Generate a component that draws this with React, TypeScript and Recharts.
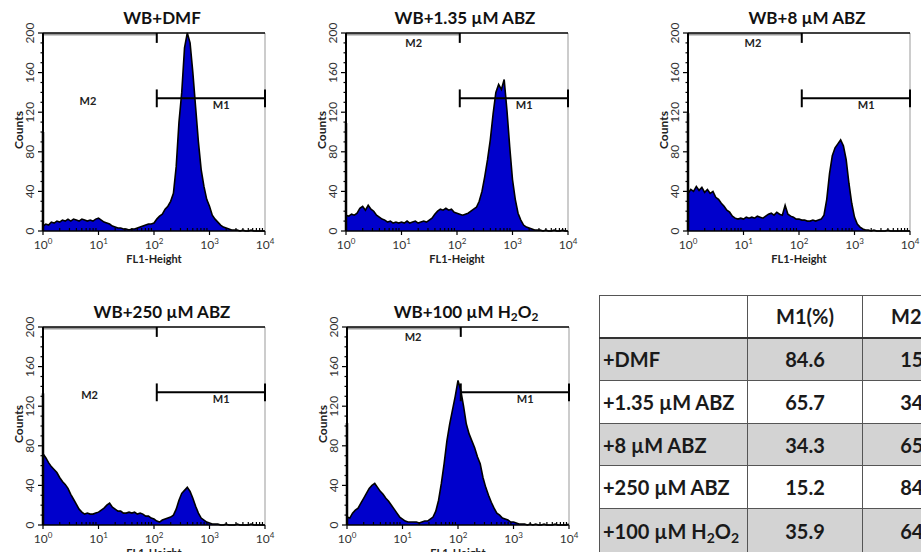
import { AreaChart, Area, XAxis, YAxis, ReferenceLine, ReferenceDot } from "recharts";

// channel positions in decades (log10 of FL1-Height)
const channelDecades = [
  0, 0.05, 0.1, 0.15, 0.2, 0.25, 0.3, 0.35, 0.4, 0.45,
  0.5, 0.55, 0.6, 0.65, 0.7, 0.75, 0.8, 0.85, 0.9, 0.95,
  1, 1.05, 1.1, 1.15, 1.2, 1.25, 1.3, 1.35, 1.4, 1.45,
  1.5, 1.55, 1.6, 1.65, 1.7, 1.75, 1.8, 1.85, 1.9, 1.95,
  2, 2.05, 2.1, 2.15, 2.2, 2.25, 2.3, 2.35, 2.4, 2.45,
  2.5, 2.55, 2.6, 2.65, 2.7, 2.75, 2.8, 2.85, 2.9, 2.95,
  3, 3.05, 3.1, 3.15, 3.2, 3.25, 3.3, 3.35, 3.4, 3.45,
  3.5, 3.55, 3.6, 3.65, 3.7, 3.75, 3.8, 3.85, 3.9, 3.95,
  4,
];

const dmfCounts = [
  5, 7, 6, 9, 8, 10, 9, 11, 10, 12,
  10, 12, 11, 10, 12, 11, 10, 11, 10, 12,
  13, 11, 9, 8, 7, 5, 4, 3, 3, 2,
  2, 1, 2, 2, 3, 4, 5, 6, 7, 7,
  8, 12, 15, 17, 22, 25, 30, 38, 65, 110,
  140, 185, 200, 190, 160, 125, 90, 62, 45, 32,
  25, 16, 12, 9, 6, 4, 3, 2, 1, 1,
  1, 0, 1, 0, 0, 1, 0, 0, 0, 0,
  0,
];

const abz135Counts = [
  16, 15, 17, 16, 18, 23, 25, 21, 26, 22,
  20, 16, 14, 12, 11, 9, 10, 8, 9, 8,
  9, 8, 10, 8, 9, 10, 8, 9, 10, 9,
  11, 13, 17, 20, 22, 21, 23, 21, 22, 19,
  18, 17, 16, 17, 18, 20, 22, 24, 30, 40,
  55, 72, 92, 118, 140, 148, 143, 153, 122, 85,
  52, 32, 18, 11, 6, 4, 3, 2, 1, 1,
  1, 0, 1, 0, 0, 1, 0, 0, 1, 0,
  0,
];

const abz8Counts = [
  38, 42, 40, 45, 41, 44, 39, 42, 38, 40,
  34, 32, 28, 25, 21, 19, 15, 13, 12, 13,
  12, 14, 13, 14, 13, 15, 14, 13, 15, 17,
  18, 16, 19, 17, 16, 26, 17, 15, 14, 12,
  12, 11, 11, 10, 10, 11, 10, 11, 12, 16,
  32, 58, 76, 84, 88, 92, 86, 72, 48, 28,
  14, 7, 4, 2, 1, 1, 0, 1, 0, 0,
  0, 0, 1, 0, 0, 0, 0, 0, 0, 0,
  0,
];

const abz250Counts = [
  72, 68, 63, 59, 56, 53, 48, 44, 41, 37,
  31, 26, 21, 16, 13, 11, 12, 11, 11, 12,
  13, 15, 17, 20, 22, 18, 16, 14, 14, 12,
  12, 13, 12, 13, 11, 12, 11, 9, 9, 7,
  6, 4, 3, 5, 6, 7, 8, 10, 16, 25,
  32, 35, 38, 34, 27, 19, 12, 7, 5, 3,
  2, 1, 1, 1, 0, 0, 1, 0, 0, 0,
  1, 0, 0, 0, 0, 1, 0, 0, 0, 0,
  0,
];

const h2o2Counts = [
  8, 7, 12, 15, 17, 22, 27, 32, 37, 40,
  42, 38, 34, 31, 27, 24, 20, 16, 12, 8,
  6, 4, 3, 3, 3, 3, 2, 3, 4, 4,
  6, 8, 14, 25, 42, 62, 85, 102, 116, 130,
  146, 136, 120, 102, 92, 85, 78, 69, 62, 48,
  38, 30, 23, 17, 12, 10, 7, 6, 5, 3,
  3, 2, 1, 1, 1, 0, 1, 0, 1, 0,
  0, 1, 0, 0, 0, 1, 0, 0, 0, 0,
  1,
];

// first-channel pile-up drawn on the y axis
const edgeCounts = [100, 109, 119, 133, 103];

const panelTitles = ["WB+DMF", "WB+1.35 µM ABZ", "WB+8 µM ABZ", "WB+250 µM ABZ", "WB+100 µM H2O2"];

const decadeTicks = [0, 1, 2, 3, 4];
const minorOffsets = [0.301, 0.477, 0.602, 0.699, 0.778, 0.845, 0.903, 0.954];
const xTicks = [...decadeTicks, ...decadeTicks.slice(0, 4).flatMap((d) => minorOffsets.map((m) => d + m))];
const yTicks = [0, 10, 20, 30, 40, 50, 60, 70, 80, 90, 100, 110, 120, 130, 140, 150, 160, 170, 180, 190, 200];

// marker gates (decades / counts)
const gateSplit = 2.05;
const m1Level = 134;

// table
const tableHeader = ["", "M1(%)", "M2(%)"];
const tableLabels = ["+DMF", "+1.35 µM ABZ", "+8 µM ABZ", "+250 µM ABZ", "+100 µM H2O2"];
const m1Percent = [84.6, 65.7, 34.3, 15.2, 35.9];
const m2Percent = [15.4, 34.3, 65.7, 84.8, 64.1];

const FONT = "Lato, 'Open Sans', 'Liberation Sans', sans-serif";

function withSubs(s: string) {
  return s.split(/(H2O2)/).map((part, i) =>
    part === "H2O2" ? (
      <span key={i}>
        H<sub style={{ fontSize: "0.7em", verticalAlign: "-0.25em", lineHeight: 0 }}>2</sub>O
        <sub style={{ fontSize: "0.7em", verticalAlign: "-0.25em", lineHeight: 0 }}>2</sub>
      </span>
    ) : (
      part
    )
  );
}

function XTick(props: any) {
  const { x, y, payload } = props;
  const v = payload.value;
  if (!Number.isInteger(v)) {
    return <line x1={x} x2={x} y1={y} y2={y - 3} stroke="#000" strokeWidth={1.2} />;
  }
  return (
    <g>
      <line x1={x} x2={x} y1={y} y2={y + 4} stroke="#000" strokeWidth={1.2} />
      <text x={x} y={y + 18} textAnchor="middle" fontSize={12} fill="#333" fontFamily={FONT}>
        <tspan>10</tspan>
        <tspan dy={-5} fontSize={8}>
          {v}
        </tspan>
      </text>
    </g>
  );
}

function YTick(props: any) {
  const { x, y, payload } = props;
  const v = payload.value;
  const major = v % 40 === 0;
  return (
    <g>
      <line x1={x} x2={x - (major ? 5 : 2.5)} y1={y} y2={y} stroke="#000" strokeWidth={1.2} />
      {major && (
        <text
          x={x - 9}
          y={y}
          transform={`rotate(-90 ${x - 9} ${y})`}
          textAnchor="middle"
          fontSize={12}
          fill="#333"
          fontFamily={FONT}
        >
          {v}
        </text>
      )}
    </g>
  );
}

type Panel = {
  title: string;
  counts: number[];
  edge: number;
  m2x: number;
  m2y: number;
  left: number;
  top: number;
};

const panels: Panel[] = [
  { title: panelTitles[0], counts: dmfCounts, edge: edgeCounts[0], m2x: 0.81, m2y: 131, left: 0, top: 0 },
  { title: panelTitles[1], counts: abz135Counts, edge: edgeCounts[1], m2x: 1.22, m2y: 190, left: 303, top: 0 },
  { title: panelTitles[2], counts: abz8Counts, edge: edgeCounts[2], m2x: 1.17, m2y: 190, left: 645, top: 0 },
  { title: panelTitles[3], counts: abz250Counts, edge: edgeCounts[3], m2x: 0.84, m2y: 131, left: 0, top: 294 },
  { title: panelTitles[4], counts: h2o2Counts, edge: edgeCounts[4], m2x: 1.19, m2y: 190, left: 304, top: 294 },
];

const markLabel = { position: "center" as const, fontSize: 11, fontWeight: 700, fill: "#222", fontFamily: FONT };

function Histogram({ panel }: { panel: Panel }) {
  const data = channelDecades.map((x, i) => ({ x, count: panel.counts[i] }));
  return (
    <div style={{ position: "absolute", left: panel.left, top: panel.top, width: 300, height: 270 }}>
      <AreaChart width={300} height={270} data={data} margin={{ top: 33, right: 35, bottom: 9, left: 13 }}>
        <XAxis
          type="number"
          dataKey="x"
          domain={[0, 4]}
          ticks={xTicks}
          interval={0}
          tickSize={0}
          tickMargin={0}
          tick={(p: any) => <XTick {...p} />}
          height={30}
          axisLine={{ stroke: "#000", strokeWidth: 1.5 }}
          label={{
            value: "FL1-Height",
            position: "insideBottom",
            offset: -2,
            fontSize: 11,
            fontWeight: 700,
            fill: "#222",
            fontFamily: FONT,
          }}
        />
        <YAxis
          type="number"
          domain={[0, 200]}
          ticks={yTicks}
          interval={0}
          width={30}
          tickSize={0}
          tickMargin={0}
          tick={(p: any) => <YTick {...p} />}
          axisLine={{ stroke: "#000", strokeWidth: 2 }}
        />
        <Area
          type="linear"
          dataKey="count"
          stroke="#000"
          strokeWidth={1.6}
          fill="#0000cc"
          fillOpacity={1}
          dot={false}
          activeDot={false}
          isAnimationActive={false}
        />
        <ReferenceLine x={4} stroke="#999" strokeWidth={1} />
        <ReferenceLine segment={[{ x: 0, y: 198.5 }, { x: gateSplit, y: 198.5 }]} stroke="#999" strokeWidth={2} />
        <ReferenceLine y={200} stroke="#000" strokeWidth={1.5} />
        <ReferenceLine segment={[{ x: 0, y: 0 }, { x: 0, y: panel.edge }]} stroke="#000" strokeWidth={2.5} />
        <ReferenceLine segment={[{ x: gateSplit, y: 200 }, { x: gateSplit, y: 190 }]} stroke="#000" strokeWidth={2} />
        <ReferenceLine segment={[{ x: gateSplit, y: m1Level }, { x: 4, y: m1Level }]} stroke="#000" strokeWidth={2} />
        <ReferenceLine segment={[{ x: gateSplit, y: m1Level - 9 }, { x: gateSplit, y: m1Level + 9 }]} stroke="#000" strokeWidth={2} />
        <ReferenceLine segment={[{ x: 4, y: m1Level - 9 }, { x: 4, y: m1Level + 9 }]} stroke="#000" strokeWidth={2} />
        <ReferenceDot x={3.21} y={127} r={1} fill="none" stroke="none" label={{ value: "M1", ...markLabel }} />
        <ReferenceDot x={panel.m2x} y={panel.m2y} r={1} fill="none" stroke="none" label={{ value: "M2", ...markLabel }} />
      </AreaChart>
      <div
        style={{
          position: "absolute",
          left: 0,
          top: 7,
          width: 324,
          textAlign: "center",
          fontFamily: FONT,
          fontWeight: 700,
          fontSize: 17,
          lineHeight: "22px",
          color: "#111",
          whiteSpace: "nowrap",
        }}
      >
        {withSubs(panel.title)}
      </div>
      <div
        style={{
          position: "absolute",
          left: 18,
          top: 130,
          transform: "translate(-50%, -50%) rotate(-90deg)",
          fontFamily: FONT,
          fontWeight: 700,
          fontSize: 12,
          color: "#222",
          whiteSpace: "nowrap",
        }}
      >
        Counts
      </div>
    </div>
  );
}

const cell = (bg: string, align: "left" | "center", extra: React.CSSProperties = {}): React.CSSProperties => ({
  border: "1px solid #555",
  background: bg,
  textAlign: align,
  padding: align === "left" ? "0 0 0 3px" : 0,
  fontFamily: FONT,
  fontWeight: 700,
  fontSize: 20,
  color: "#1a1a1a",
  whiteSpace: "nowrap",
  overflow: "hidden",
  ...extra,
});

function ResultTable() {
  const rowHeights = [43, 43, 42, 43, 44];
  return (
    <table
      style={{
        position: "absolute",
        left: 599,
        top: 295,
        borderCollapse: "collapse",
        tableLayout: "fixed",
        width: 378,
      }}
    >
      <colgroup>
        <col style={{ width: 148 }} />
        <col style={{ width: 115 }} />
        <col style={{ width: 115 }} />
      </colgroup>
      <thead>
        <tr style={{ height: 42 }}>
          {tableHeader.map((h, i) => (
            <th key={i} style={cell("#fff", i === 0 ? "left" : "center", { borderBottom: "2.5px solid #333" })}>
              {h}
            </th>
          ))}
        </tr>
      </thead>
      <tbody>
        {tableLabels.map((label, i) => {
          const bg = i % 2 === 0 ? "#d3d3d3" : "#fff";
          return (
            <tr key={label} style={{ height: rowHeights[i] }}>
              <td style={cell(bg, "left")}>{withSubs(label)}</td>
              <td style={cell(bg, "center")}>{m1Percent[i].toFixed(1)}</td>
              <td style={cell(bg, "center")}>{m2Percent[i].toFixed(1)}</td>
            </tr>
          );
        })}
      </tbody>
    </table>
  );
}

export default function App() {
  return (
    <div
      style={{
        position: "fixed",
        left: 0,
        top: 0,
        width: 921,
        height: 552,
        overflow: "hidden",
        background: "#fff",
      }}
    >
      {panels.map((p) => (
        <Histogram key={p.title} panel={p} />
      ))}
      <ResultTable />
    </div>
  );
}
